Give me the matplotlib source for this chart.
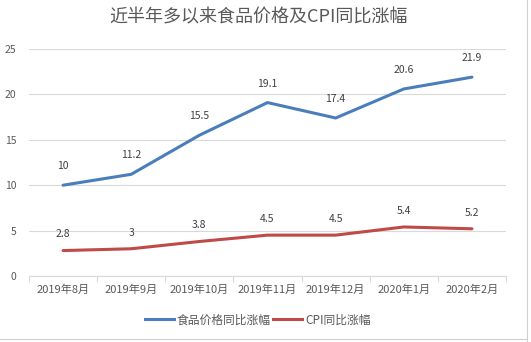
import matplotlib
matplotlib.use("Agg")
import matplotlib.pyplot as plt
from matplotlib.lines import Line2D

plt.rcParams['font.family'] = ['Noto Sans CJK SC', 'DejaVu Sans']

categories = ["2019年8月", "2019年9月", "2019年10月", "2019年11月", "2019年12月", "2020年1月", "2020年2月"]
food = [10, 11.2, 15.5, 19.1, 17.4, 20.6, 21.9]
cpi = [2.8, 3, 3.8, 4.5, 4.5, 5.4, 5.2]
food_labels = ["10", "11.2", "15.5", "19.1", "17.4", "20.6", "21.9"]
cpi_labels = ["2.8", "3", "3.8", "4.5", "4.5", "5.4", "5.2"]
yticks = [0, 5, 10, 15, 20, 25]

blue = "#4A7EBB"
red = "#BE4B48"
txt = "#595959"

fig = plt.figure(figsize=(5.31, 3.42), dpi=100)
ax = fig.add_axes([29/531, 1-276/342, (506-29)/531, (276-49)/342])

x = list(range(len(categories)))
ax.plot(x, food, color=blue, lw=2.2, solid_capstyle='round')
ax.plot(x, cpi, color=red, lw=2.2, solid_capstyle='round')

for xi, v, s in zip(x, food, food_labels):
    ax.annotate(s, (xi, v), xytext=(0, 10), textcoords='offset points', ha='center', va='bottom', fontsize=7.5, color="#404040")
for xi, v, s in zip(x, cpi, cpi_labels):
    ax.annotate(s, (xi, v), xytext=(0, 8), textcoords='offset points', ha='center', va='bottom', fontsize=7.5, color="#404040")

ax.set_xlim(-0.5, len(categories)-0.5)
ax.set_ylim(0, 25)
ax.set_yticks(yticks)
ax.set_yticklabels([str(t) for t in yticks], fontsize=7.5, color=txt)
ax.yaxis.grid(True, color="#D9D9D9", lw=0.8)
ax.set_axisbelow(True)
ax.tick_params(axis='y', length=0, pad=9)

ax.set_xticks(x)
ax.set_xticklabels(categories, fontsize=8, color=txt)
ax.tick_params(axis='x', length=0, pad=6)
ax.set_xticks([i - 0.5 for i in range(len(categories)+1)], minor=True)
ax.tick_params(axis='x', which='minor', length=4, color="#D9D9D9", width=0.8)

for s in ['top', 'right', 'left']:
    ax.spines[s].set_visible(False)
ax.spines['bottom'].set_color("#D9D9D9")
ax.spines['bottom'].set_linewidth(0.8)

fig.text(258/531, 1-17/342, "近半年多以来食品价格及CPI同比涨幅", ha='center', va='center', fontsize=13, color=txt)

handles = [Line2D([], [], color=blue, lw=2.2), Line2D([], [], color=red, lw=2.2)]
fig.legend(handles, ["食品价格同比涨幅", "CPI同比涨幅"], loc='center', bbox_to_anchor=(258/531, 1-320/342),
           ncol=2, frameon=False, fontsize=8.5, handlelength=2.4, handletextpad=0.3, columnspacing=0.2,
           labelcolor=txt)

# spreadsheet edge
fig.add_artist(Line2D([527/531, 527/531], [0, 1], transform=fig.transFigure, color="#D0D0D0", lw=0.8))
fig.add_artist(Line2D([0, 527/531], [1-339/342, 1-339/342], transform=fig.transFigure, color="#D0D0D0", lw=0.8))

fig.savefig("out.png", dpi=100)
